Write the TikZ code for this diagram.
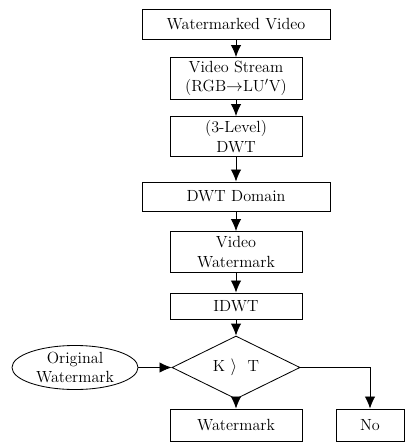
\documentclass[tikz,border=0pt]{standalone}
\usetikzlibrary{shapes,arrows.meta}

\begin{document}
\begin{tikzpicture}
        [x=0.025cm, y=-0.025cm,
        font=\fontsize{11.5}{13.8}\selectfont,
        every node/.style={draw=black, semithick, align=center, inner sep=1pt},
        wbox/.style={rectangle, minimum width=4.7cm},
        nbox/.style={rectangle, minimum width=3.3cm},
        decision/.style={diamond, minimum width=3.2cm, minimum height=1.15cm, inner sep=0pt},
        inputoval/.style={ellipse, minimum width=3.15cm, minimum height=1.05cm, inner sep=0pt},
        flow/.style={draw=black, semithick, -{Latex[length=3mm,width=2.6mm]}}]
        \useasboundingbox (0,0) rectangle (406,444);
        % main chain
        \node[wbox, minimum height=0.75cm] (marked) at (236,24) {Watermarked Video};
        \node[nbox, minimum height=1.05cm] (stream) at (236,78.5) {Video Stream\\(RGB$\rightarrow$LU$'$V)};
        \node[nbox, minimum height=1.0cm] (dwt) at (236,136.5) {(3-Level)\\DWT};
        \node[wbox, minimum height=0.725cm] (domain) at (236,196.5) {DWT Domain};
        \node[nbox, minimum height=1.025cm] (vwm) at (236,252) {Video\\Watermark};
        \node[nbox, minimum height=0.65cm] (idwt) at (236,306) {IDWT};
        \node[decision] (cmp) at (236,367.5) {K~$\rangle$~~T};
        % side input and results
        \node[inputoval] (orig) at (75,367.5) {Original\\Watermark};
        \node[nbox, minimum height=0.8cm] (wm) at (236,425) {Watermark};
        \node[rectangle, minimum width=1.7cm, minimum height=0.8cm] (no) at (370,425) {No};

        \draw[flow] (marked) -- (stream);
        \draw[flow] (stream) -- (dwt);
        \draw[flow] (dwt) -- (domain);
        \draw[flow] (domain) -- (vwm);
        \draw[flow] (vwm) -- (idwt);
        \draw[flow] (idwt) -- (cmp);
        \draw[flow] (orig) -- (cmp);
        \draw[flow] (cmp) -- (wm);
        \draw[flow] (cmp.east) -| (no.north);
\end{tikzpicture}
\end{document}
